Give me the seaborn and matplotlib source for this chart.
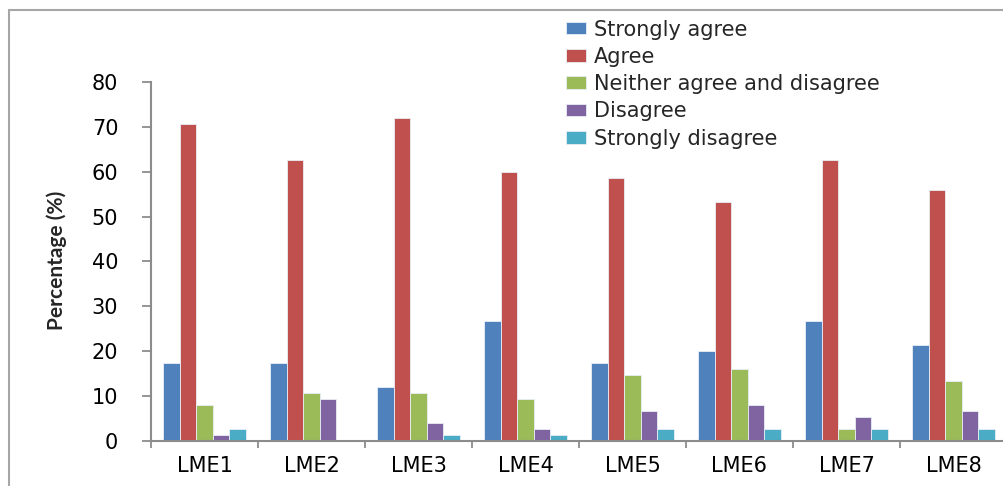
import matplotlib
matplotlib.use("Agg")
import matplotlib.pyplot as plt
from matplotlib.lines import Line2D
import numpy as np
import pandas as pd
import seaborn as sns

# Survey items and response categories
items = ["LME1", "LME2", "LME3", "LME4", "LME5", "LME6", "LME7", "LME8"]
responses = ["Strongly agree", "Agree", "Neither agree and disagree",
             "Disagree", "Strongly disagree"]

# Percentage of respondents per item
strongly_agree = [17.3, 17.3, 12.0, 26.7, 17.3, 20.0, 26.7, 21.3]
agree = [70.7, 62.7, 72.0, 60.0, 58.7, 53.3, 62.7, 56.0]
neither = [8.0, 10.7, 10.7, 9.3, 14.7, 16.0, 2.7, 13.3]
disagree = [1.3, 9.3, 4.0, 2.7, 6.7, 8.0, 5.3, 6.7]
strongly_disagree = [2.7, 0.0, 1.3, 1.3, 2.7, 2.7, 2.7, 2.7]

yticks = [0, 10, 20, 30, 40, 50, 60, 70, 80]

colors = ["#4F81BD", "#C0504D", "#9BBB59", "#8064A2", "#4BACC6"]

series = [strongly_agree, agree, neither, disagree, strongly_disagree]
df = pd.DataFrame({
    "item": items * len(responses),
    "response": np.repeat(responses, len(items)),
    "pct": np.concatenate(series),
})

sns.set_theme(style="white")
plt.rcParams["font.family"] = ["DejaVu Sans"]

W, H = 1004, 486
fig = plt.figure(figsize=(W / 100, H / 100), dpi=100)
ax = fig.add_axes([151 / W, 45.3 / H, 856 / W, 358.7 / H])

sns.barplot(data=df, x="item", y="pct", hue="response", order=items,
            hue_order=responses, palette=colors, saturation=1,
            width=0.77, gap=0, edgecolor="#e8eef6", linewidth=0.6,
            legend=True, ax=ax)

ax.set_ylim(0, 80)
ax.set_xlim(-0.5, len(items) - 0.5)
ax.set_yticks(yticks)
ax.set_yticklabels([str(v) for v in yticks])

# category separators as major ticks, labels on minor ticks
ax.set_xticks(np.arange(-0.5, len(items), 1.0))
ax.set_xticklabels([])
ax.set_xticks(np.arange(len(items)), minor=True)
ax.set_xticklabels(items, minor=True)

spine_col = "#8c8c8c"
for s in ["top", "right"]:
    ax.spines[s].set_visible(False)
for s in ["left", "bottom"]:
    ax.spines[s].set_color(spine_col)
    ax.spines[s].set_linewidth(1.5)

ax.tick_params(axis="y", which="major", direction="out", length=6.5,
               width=1.3, color=spine_col, left=True, labelsize=15,
               pad=17, labelcolor="black")
ax.tick_params(axis="x", which="major", direction="out", length=5,
               width=1.3, color=spine_col, bottom=True)
ax.tick_params(axis="x", which="minor", length=0, labelsize=15,
               pad=11, labelcolor="black")

ax.set_xlabel("")
ax.set_ylabel("Percentage (%)", fontsize=15, fontweight="bold",
              family=["Lato", "DejaVu Sans"])
ax.yaxis.set_label_coords(-0.098, 0.504)

handles, labels = ax.get_legend_handles_labels()
ax.get_legend().remove()
leg = fig.legend(handles, labels, loc="upper left",
                 bbox_to_anchor=(566 / W, 1 - 19.5 / H),
                 frameon=False, fontsize=15, handlelength=0.95,
                 handleheight=0.55, handletextpad=0.38, labelspacing=0.35,
                 borderpad=0, borderaxespad=0)

# outer chart frame (top and left edges)
frame_col = "#a6a6a6"
fig.add_artist(Line2D([9 / W, 9 / W], [0, 1 - 10.5 / H],
                      transform=fig.transFigure, color=frame_col, lw=1.5))
fig.add_artist(Line2D([9 / W, 1], [1 - 10.5 / H, 1 - 10.5 / H],
                      transform=fig.transFigure, color=frame_col, lw=1.5))

fig.savefig("out.png", dpi=100, facecolor="white")
